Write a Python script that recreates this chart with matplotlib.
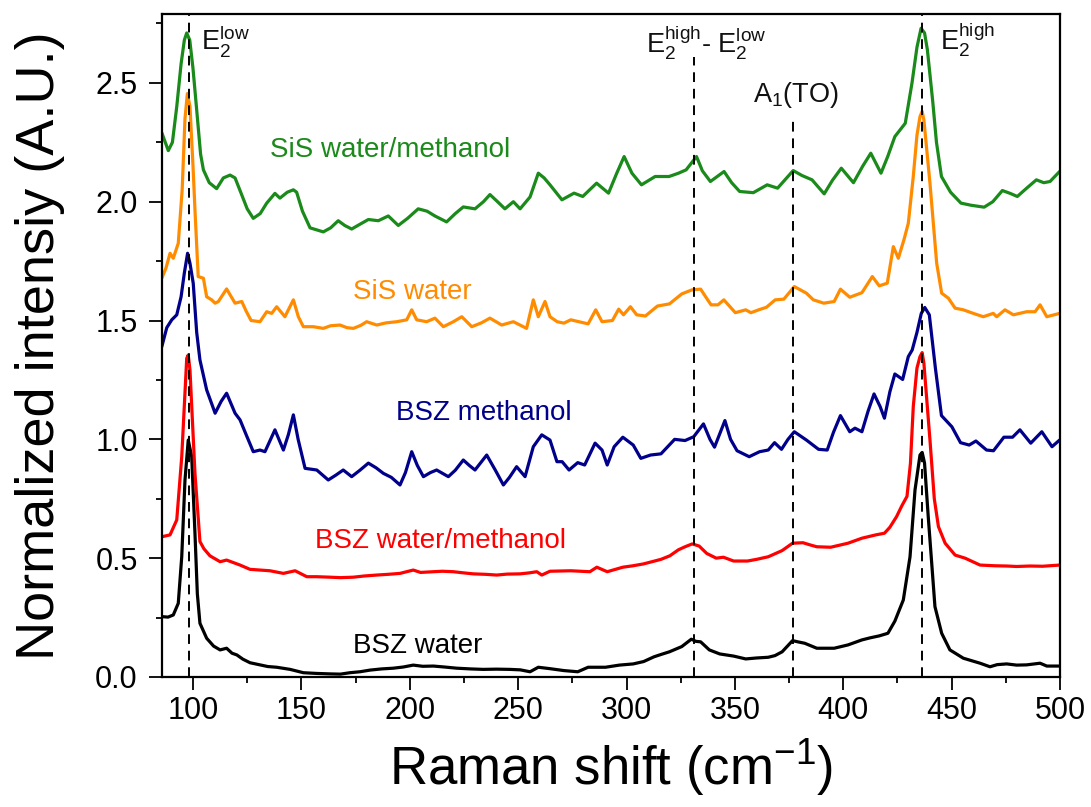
import matplotlib
matplotlib.use("Agg")
import matplotlib.pyplot as plt
from matplotlib.ticker import MultipleLocator, FormatStrFormatter

plt.rcParams['font.family'] = ['Liberation Sans', 'DejaVu Sans']
plt.rcParams['mathtext.fontset'] = 'custom'
plt.rcParams['mathtext.rm'] = 'Liberation Sans'
plt.rcParams['mathtext.it'] = 'Liberation Sans:italic'
plt.rcParams['mathtext.bf'] = 'Liberation Sans:bold'

# ---------------- data ----------------
bsz_water_x = [85.6, 88.5, 90.9, 93.2, 94.8, 96.3, 97.8, 99.4, 100.9, 102.0, 103.2, 106.3, 109.5, 112.5,
               115.5, 118.0, 120.2, 123.0, 126.3, 130.9, 134.5, 138.6, 144.8, 150.9, 157.0, 163.2, 168.0,
               172.4, 177.0, 181.7, 187.0, 192.4, 197.0, 201.6, 206.0, 210.9, 216.0, 221.7, 228.0, 233.9,
               240.0, 246.2, 251.0, 255.5, 259.3, 264.7, 271.1, 277.5, 282.3, 290.3, 296.7, 303.1, 307.9,
               312.7, 316.0, 319.8, 325.5, 329.9, 332.0, 334.2, 338.2, 343.0, 349.4, 355.0, 360.0, 365.4,
               368.5, 371.8, 376.6, 379.0, 382.2, 387.8, 395.8, 402.2, 408.6, 412.5, 416.6, 420.6, 423.8,
               427.7, 430.8, 433.1, 435.4, 436.4, 437.5, 439.2, 442.3, 445.4, 449.2, 455.4, 463.1, 467.7,
               471.0, 475.4, 480.0, 484.6, 490.8, 493.9, 499.8]
bsz_water_y = [0.254, 0.252, 0.261, 0.31, 0.506, 0.829, 0.997, 0.927, 0.605, 0.35, 0.226, 0.163, 0.13, 0.114,
               0.121, 0.10, 0.093, 0.075, 0.06, 0.051, 0.044, 0.041, 0.032, 0.018, 0.015, 0.013, 0.012,
               0.018, 0.022, 0.029, 0.034, 0.037, 0.042, 0.05, 0.045, 0.046, 0.042, 0.037, 0.034, 0.032,
               0.033, 0.032, 0.030, 0.022, 0.041, 0.035, 0.027, 0.022, 0.041, 0.041, 0.05, 0.055, 0.065,
               0.085, 0.095, 0.106, 0.128, 0.159, 0.15, 0.148, 0.114, 0.097, 0.088, 0.076, 0.080, 0.083,
               0.09, 0.106, 0.153, 0.148, 0.142, 0.121, 0.121, 0.135, 0.156, 0.165, 0.173, 0.184, 0.235,
               0.324, 0.506, 0.787, 0.934, 0.945, 0.90, 0.675, 0.296, 0.184, 0.114, 0.079, 0.058, 0.043,
               0.052, 0.055, 0.05, 0.051, 0.058, 0.046, 0.046]

bsz_wm_x = [85.6, 89.4, 92.5, 94.8, 97.1, 97.8, 98.6, 100.9, 103.2, 105.0, 107.8, 112.5, 115.5, 121.7, 126.3,
            130.9, 135.5, 141.7, 147.1, 152.5, 157.0, 163.2, 168.0, 174.0, 179.0, 184.8, 190.0, 195.5, 201.6,
            205.0, 210.9, 215.0, 220.1, 225.0, 229.3, 235.0, 240.1, 245.0, 250.9, 255.0, 258.6, 260.9, 264.7,
            274.3, 283.1, 286.3, 291.1, 298.3, 303.0, 307.9, 315.9, 320.0, 323.9, 327.0, 330.3, 333.5, 337.0,
            341.4, 344.7, 349.4, 355.8, 360.0, 365.4, 371.8, 376.6, 381.4, 385.0, 387.8, 394.2, 402.2, 408.6,
            415.0, 419.0, 421.5, 424.6, 427.0, 429.4, 431.0, 432.3, 434.0, 435.4, 436.4, 437.2, 440.0, 442.0,
            443.9, 447.0, 451.6, 456.2, 463.1, 470.0, 475.4, 480.0, 486.2, 492.0, 499.8]
bsz_wm_y = [0.59, 0.598, 0.661, 0.927, 1.341, 1.355, 1.292, 0.857, 0.57, 0.54, 0.51, 0.485, 0.492, 0.471, 0.453,
            0.45, 0.447, 0.436, 0.447, 0.422, 0.422, 0.42, 0.418, 0.42, 0.425, 0.429, 0.432, 0.436, 0.45,
            0.44, 0.443, 0.445, 0.443, 0.438, 0.434, 0.432, 0.429, 0.433, 0.434, 0.438, 0.443, 0.429, 0.445,
            0.447, 0.443, 0.462, 0.443, 0.462, 0.468, 0.476, 0.495, 0.51, 0.535, 0.548, 0.56, 0.551, 0.52,
            0.50, 0.504, 0.488, 0.488, 0.495, 0.506, 0.532, 0.563, 0.565, 0.555, 0.548, 0.546, 0.563, 0.584,
            0.598, 0.605, 0.63, 0.675, 0.72, 0.76, 0.90, 1.138, 1.30, 1.348, 1.365, 1.32, 0.997, 0.75,
            0.633, 0.563, 0.513, 0.50, 0.471, 0.468, 0.467, 0.465, 0.467, 0.466, 0.471]

bsz_meth_x = [85.6, 87.9, 90.2, 92.5, 94.5, 96.0, 97.5, 98.6, 100.1, 101.7, 103.2, 106.3, 110.2, 113.0, 115.5,
              119.4, 121.7, 124.5, 127.8, 130.9, 133.2, 137.8, 141.7, 144.0, 146.3, 148.5, 151.7, 157.1, 162.4,
              166.0, 169.3, 173.2, 177.0, 180.9, 184.5, 187.8, 191.5, 195.5, 198.0, 200.9, 203.5, 206.3, 209.5,
              212.4, 217.8, 221.0, 224.7, 227.5, 230.1, 235.5, 239.5, 243.2, 246.0, 249.3, 253.2, 257.0, 260.9,
              264.7, 267.9, 270.3, 273.5, 277.5, 280.7, 285.5, 288.7, 291.1, 294.3, 298.3, 303.1, 306.6, 311.1,
              315.9, 322.2, 327.0, 331.0, 335.5, 338.5, 340.6, 345.4, 348.0, 351.0, 356.6, 361.4, 365.4, 368.3,
              371.5, 374.5, 377.4, 383.0, 388.6, 392.6, 395.5, 398.7, 403.0, 405.4, 408.6, 411.5, 414.2, 417.0,
              419.0, 421.5, 423.8, 427.4, 430.0, 431.8, 434.0, 436.0, 437.6, 439.7, 442.5, 445.3, 450.1, 454.1,
              458.1, 461.2, 466.1, 469.3, 474.1, 478.1, 481.5, 486.5, 491.6, 496.3, 499.8]
bsz_meth_y = [1.39, 1.47, 1.503, 1.524, 1.60, 1.70, 1.783, 1.741, 1.657, 1.45, 1.334, 1.208, 1.11, 1.16, 1.194,
              1.11, 1.082, 1.02, 0.948, 0.955, 0.948, 1.04, 0.955, 1.02, 1.103, 1.0, 0.878, 0.871, 0.829,
              0.85, 0.871, 0.843, 0.87, 0.90, 0.88, 0.857, 0.84, 0.808, 0.86, 0.948, 0.89, 0.843, 0.86,
              0.871, 0.843, 0.87, 0.913, 0.89, 0.871, 0.934, 0.87, 0.808, 0.84, 0.885, 0.843, 0.969, 1.019,
              0.997, 0.906, 0.906, 0.871, 0.902, 0.892, 0.984, 0.955, 0.892, 0.969, 1.009, 0.976, 0.92, 0.934,
              0.939, 1.0, 0.995, 1.011, 1.065, 1.0, 0.967, 1.079, 1.0, 0.952, 0.927, 0.948, 0.955, 0.986,
              0.958, 1.0, 1.032, 0.997, 0.958, 0.955, 1.03, 1.1, 1.032, 1.047, 1.032, 1.12, 1.191, 1.138,
              1.089, 1.2, 1.275, 1.252, 1.348, 1.376, 1.45, 1.53, 1.555, 1.524, 1.30, 1.10, 1.053, 0.986,
              0.976, 0.993, 0.955, 0.952, 1.009, 1.009, 1.04, 0.984, 1.032, 0.969, 0.997]

sis_water_x = [85.6, 87.5, 89.4, 90.9, 93.2, 95.0, 96.3, 97.4, 98.6, 100.0, 100.9, 102.4, 104.8, 106.3, 108.6,
               110.2, 111.7, 115.5, 119.4, 122.5, 124.5, 126.8, 130.9, 134.0, 136.3, 138.6, 142.4, 146.3, 148.6,
               150.9, 155.5, 160.1, 163.5, 167.8, 171.0, 174.0, 177.5, 180.1, 184.8, 189.0, 194.0, 198.6, 200.9,
               203.2, 207.8, 211.6, 215.5, 220.1, 224.0, 228.6, 233.0, 237.0, 242.4, 247.8, 253.9, 257.0, 259.3,
               262.4, 264.7, 268.0, 271.1, 274.3, 278.0, 282.3, 285.8, 288.7, 293.5, 296.4, 298.6, 301.8, 304.7,
               308.7, 314.3, 319.8, 325.5, 330.2, 334.2, 336.5, 339.0, 342.2, 344.9, 350.2, 355.0, 357.4, 361.0,
               364.6, 368.6, 372.6, 377.4, 383.0, 386.2, 391.0, 395.8, 398.7, 403.0, 408.6, 413.4, 416.6, 420.3,
               423.1, 425.4, 428.0, 430.0, 432.3, 434.0, 435.4, 436.4, 437.2, 440.0, 443.1, 445.4, 448.5, 451.6,
               455.4, 460.0, 464.6, 469.2, 470.8, 474.6, 478.5, 484.6, 488.5, 490.8, 493.9, 499.8]
sis_water_y = [1.678, 1.72, 1.783, 1.762, 1.825, 2.05, 2.35, 2.455, 2.40, 2.15, 1.966, 1.685, 1.678, 1.60, 1.587,
               1.573, 1.58, 1.633, 1.573, 1.58, 1.54, 1.50, 1.495, 1.537, 1.53, 1.558, 1.516, 1.587, 1.516,
               1.474, 1.474, 1.467, 1.478, 1.481, 1.47, 1.467, 1.48, 1.495, 1.481, 1.49, 1.495, 1.503, 1.545,
               1.503, 1.495, 1.51, 1.474, 1.495, 1.516, 1.474, 1.49, 1.51, 1.481, 1.495, 1.467, 1.587, 1.516,
               1.58, 1.516, 1.495, 1.489, 1.503, 1.495, 1.486, 1.545, 1.495, 1.50, 1.548, 1.524, 1.558, 1.524,
               1.519, 1.561, 1.57, 1.612, 1.629, 1.632, 1.60, 1.566, 1.566, 1.587, 1.533, 1.545, 1.533, 1.545,
               1.556, 1.587, 1.59, 1.643, 1.615, 1.587, 1.573, 1.58, 1.632, 1.598, 1.617, 1.685, 1.646, 1.657,
               1.811, 1.762, 1.84, 1.909, 2.106, 2.28, 2.358, 2.38, 2.344, 2.078, 1.741, 1.615, 1.594, 1.552,
               1.545, 1.53, 1.516, 1.53, 1.516, 1.545, 1.524, 1.537, 1.537, 1.566, 1.516, 1.53]

sis_wm_x = [85.6, 88.6, 90.5, 92.5, 94.5, 96.0, 97.1, 98.5, 100.0, 101.7, 103.5, 104.8, 107.5, 110.9, 114.0,
            117.1, 119.4, 122.0, 125.0, 127.8, 131.0, 134.0, 137.8, 140.1, 143.5, 146.3, 147.8, 150.5, 154.0,
            160.1, 163.5, 167.0, 170.0, 173.2, 177.0, 180.9, 185.5, 190.1, 194.7, 199.0, 203.9, 208.0, 211.6,
            217.0, 221.0, 224.7, 230.1, 234.0, 237.0, 240.5, 243.9, 247.8, 250.9, 255.5, 259.3, 262.0, 264.7,
            270.2, 275.8, 279.8, 283.0, 286.2, 291.7, 295.5, 298.9, 302.5, 306.9, 313.2, 319.6, 324.0, 327.5,
            332.3, 335.0, 338.7, 345.0, 348.5, 352.2, 358.5, 364.9, 369.7, 376.9, 381.0, 385.6, 391.2, 395.0,
            399.1, 404.7, 409.0, 412.7, 417.4, 420.5, 423.8, 428.6, 431.7, 434.0, 435.9, 437.5, 438.8, 441.3,
            443.0, 445.3, 449.5, 454.3, 459.0, 465.0, 469.0, 473.4, 477.0, 480.3, 485.0, 489.1, 492.5, 495.4,
            499.8]
sis_wm_y = [2.29, 2.215, 2.25, 2.40, 2.58, 2.68, 2.71, 2.68, 2.56, 2.386, 2.20, 2.134, 2.08, 2.055, 2.10,
            2.112, 2.10, 2.04, 1.97, 1.93, 1.95, 1.994, 2.035, 2.015, 2.04, 2.05, 2.04, 1.96, 1.89,
            1.873, 1.89, 1.92, 1.90, 1.885, 1.905, 1.925, 1.92, 1.94, 1.90, 1.93, 1.97, 1.96, 1.94,
            1.915, 1.95, 1.978, 1.97, 2.0, 2.03, 2.0, 1.97, 2.0, 1.97, 2.02, 2.12, 2.10, 2.071,
            2.008, 2.036, 2.022, 2.05, 2.078, 2.036, 2.12, 2.19, 2.12, 2.071, 2.106, 2.106, 2.12, 2.134,
            2.19, 2.13, 2.085, 2.127, 2.08, 2.043, 2.038, 2.071, 2.057, 2.131, 2.11, 2.092, 2.033, 2.09,
            2.141, 2.08, 2.15, 2.204, 2.12, 2.19, 2.274, 2.33, 2.499, 2.65, 2.73, 2.71, 2.64, 2.42,
            2.25, 2.106, 2.04, 1.994, 1.985, 1.977, 2.0, 2.047, 2.035, 2.022, 2.06, 2.092, 2.08, 2.085,
            2.127]

series_names = ["BSZ water", "BSZ water/methanol", "BSZ methanol", "SiS water", "SiS water/methanol"]
series_colors = ["#000000", "#ff0000", "#00008b", "#ff8c00", "#1a8a1a"]
label_pos_x = [203.8, 214.4, 234.0, 201.0, 190.9]
label_pos_y = [0.13, 0.572, 1.11, 1.62, 2.218]

mode_pos = [98.0, 331.0, 377.0, 436.5]
mode_top = [2.79, 2.61, 2.36, 2.79]
mode_labels = [r"E$_2^{\mathrm{low}}$", r"E$_2^{\mathrm{high}}$- E$_2^{\mathrm{low}}$", r"A$_1$(TO)", r"E$_2^{\mathrm{high}}$"]
mode_label_x = [103.5, 308.8, 358.3, 444.6]
mode_label_y = [2.64, 2.626, 2.421, 2.64]

# ---------------- plot ----------------
fig = plt.figure(figsize=(10.91, 8.07), dpi=100)
ax = fig.add_axes([0.1485, 0.1611, 0.8231, 0.8216])

xs = [bsz_water_x, bsz_wm_x, bsz_meth_x, sis_water_x, sis_wm_x]
ys = [bsz_water_y, bsz_wm_y, bsz_meth_y, sis_water_y, sis_wm_y]
for x, y, c in zip(xs, ys, series_colors):
    ax.plot(x, y, color=c, lw=2.3, solid_joinstyle='round', solid_capstyle='round', zorder=2)

for name, c, lx, ly in zip(series_names, series_colors, label_pos_x, label_pos_y):
    ax.text(lx, ly, name, color=c, fontsize=20, ha='center', va='center')

for p, t in zip(mode_pos, mode_top):
    ax.plot([p, p], [0, t], color='black', lw=1.4, ls=(0, (5, 3.5)), zorder=3)

for lab, lx, ly in zip(mode_labels, mode_label_x, mode_label_y):
    ax.text(lx, ly, lab, color='#111111', fontsize=19.5, ha='left', va='baseline')

ax.set_xlim(85.7, 500)
ax.set_ylim(0, 2.79)
ax.xaxis.set_major_locator(MultipleLocator(50))
ax.xaxis.set_minor_locator(MultipleLocator(25))
ax.yaxis.set_major_locator(MultipleLocator(0.5))
ax.yaxis.set_minor_locator(MultipleLocator(0.25))
ax.yaxis.set_major_formatter(FormatStrFormatter('%.1f'))
ax.tick_params(which='major', direction='out', length=9.5, width=1.3, labelsize=22, pad=4)
ax.tick_params(which='minor', direction='out', length=4.5, width=1.3)
ax.tick_params(axis='y', which='major', pad=8)
for s in ax.spines.values():
    s.set_linewidth(1.6)

ax.set_xlabel(r"Raman shift (cm$^{-1}$)", fontsize=38, labelpad=8)
ax.set_ylabel("Normalized intensiy (A.U.)", fontsize=39, labelpad=22)

fig.savefig("out.png", dpi=100)
